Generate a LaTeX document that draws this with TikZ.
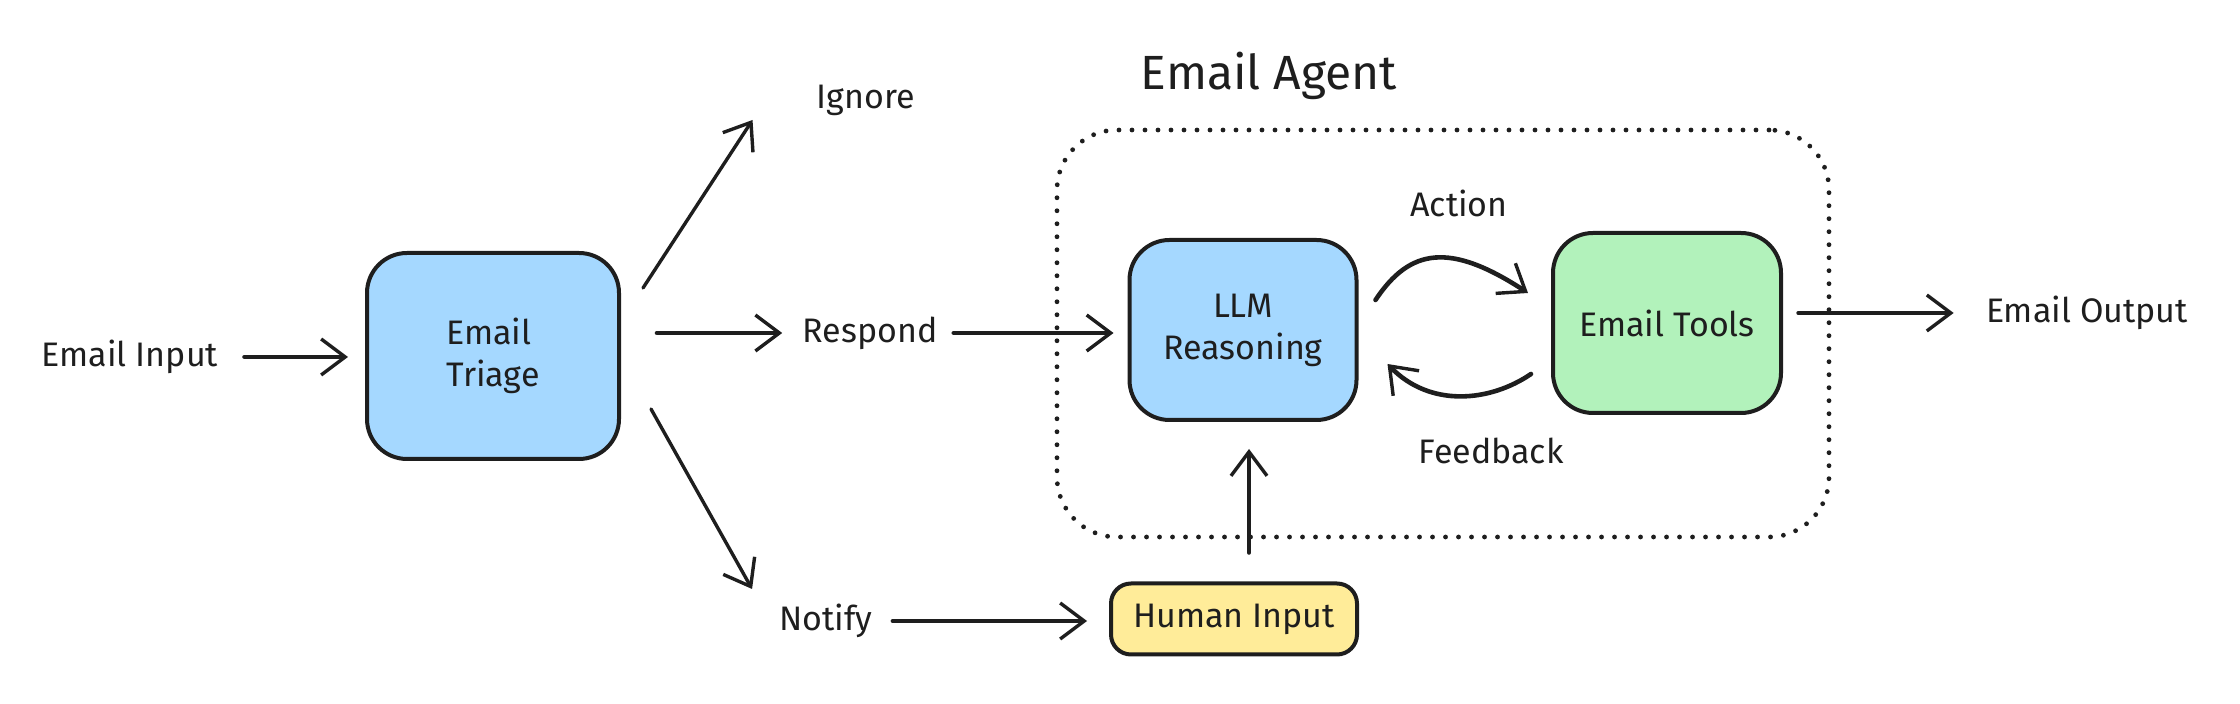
\documentclass[tikz,border=0pt]{standalone}
\usepackage{fontspec}
\setmainfont{Fira Sans}
\usetikzlibrary{arrows.meta}
\definecolor{ink}{HTML}{1E1E1E}
\definecolor{bluefill}{HTML}{A5D8FF}
\definecolor{greenfill}{HTML}{B2F2BB}
\definecolor{yellowfill}{HTML}{FFEC99}
\begin{document}
\begin{tikzpicture}[x=0.5pt,y=-0.5pt,
  lbl/.style={font=\fontsize{17}{21}\selectfont, text=ink, inner sep=0pt},
  box/.style={draw=ink, line width=2pt, rounded corners=20pt, align=center,
    font=\fontsize{17}{21}\selectfont, text=ink, inner sep=0pt},
  arr/.style={draw=ink, line width=1.7pt, line cap=round,
    -{Straight Barb[length=12pt,width=18pt,line width=1.7pt]}},
  thickarr/.style={arr, line width=2.3pt},
]
\path[use as bounding box] (0,0) rectangle (2240,704);

% container
\node[draw=ink, line width=2.4pt, line cap=round, dash pattern=on 0pt off 6.5pt,
  rounded corners=30pt, minimum width=386pt, minimum height=203.5pt, inner sep=0pt]
  (agent) at (1443,333.5) {};
\node[lbl, font=\fontsize{24}{28}\selectfont] (title) at (1269,76) {Email Agent};

% nodes
\node[lbl] (input) at (130,357) {Email Input};
\node[box, fill=bluefill, minimum width=126pt, minimum height=103pt, align=left]
  (triage) at (493,356) {Email\\Triage};
\node[lbl] (ignore) at (866,100) {Ignore};
\node[lbl] (respond) at (870,333) {Respond};
\node[lbl] (notify) at (826,621) {Notify};
\node[box, fill=bluefill, minimum width=113.5pt, minimum height=90pt]
  (llm) at (1243,330) {LLM\\Reasoning};
\node[box, fill=greenfill, minimum width=114pt, minimum height=90pt]
  (tools) at (1667,323) {Email Tools};
\node[box, fill=yellowfill, rounded corners=10pt, minimum width=123pt, minimum height=35.5pt]
  (human) at (1234,619) {Human Input};
\node[lbl] (output) at (2087,313) {Email Output};
\node[lbl] (action) at (1459,203) {Action};
\node[lbl] (feedback) at (1491,451) {Feedback};

% connectors
\draw[thickarr, shorten <=13pt, shorten >=8.5pt] (input.east) -- (triage.west |- input.east);
\draw[arr] ([shift={(22,37)}]triage.north east) -- ([shift={(-64,20)}]ignore.west);
\draw[thickarr, shorten <=18pt, shorten >=10pt] (triage.east |- respond.west) -- (respond.west);
\draw[thickarr, shorten <=8pt, shorten >=7pt] (respond.east) -- (llm.west |- respond.east);
\draw[arr] ([shift={(30,-52)}]triage.south east) -- ([shift={(-27,-32)}]notify.west);
\draw[thickarr, shorten <=10pt, shorten >=11pt] (notify.east) -- (human.west |- notify.east);
\draw[thickarr, shorten <=14.5pt, shorten >=13.5pt] ([xshift=3pt]llm.south |- human.north) -- ([xshift=3pt]llm.south);
\draw[thickarr] ([shift={(17,-30)}]llm.east)
  .. controls (1410,248) and (1450,242) .. ([shift={(-23,-30)}]tools.west);
\draw[thickarr] ([shift={(-20,51)}]tools.west)
  .. controls (1490,402) and (1430,408) .. ([shift={(29,34)}]llm.east);
\draw[arr, shorten <=7.5pt, shorten >=16pt] (tools.east |- output.west) -- (output.west);
\end{tikzpicture}
\end{document}
